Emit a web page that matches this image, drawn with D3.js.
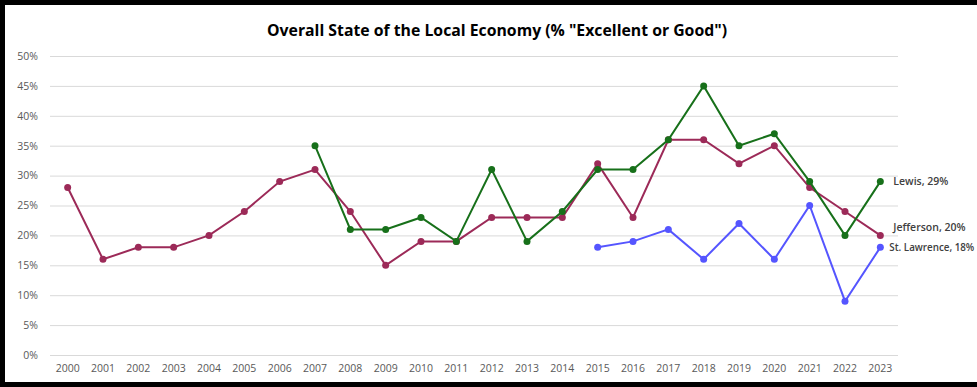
<!DOCTYPE html>
<html><head><meta charset="utf-8">
<script src="https://cdn.jsdelivr.net/npm/d3@7"></script>
<style>
html,body{margin:0;padding:0;background:#fff;}
svg{display:block;}
</style></head>
<body>
<svg id="chart" width="977" height="387"></svg>
<script>
const years = ["2000","2001","2002","2003","2004","2005","2006","2007","2008","2009","2010","2011","2012","2013","2014","2015","2016","2017","2018","2019","2020","2021","2022","2023"];
const jefferson = [28,16,18,18,20,24,29,31,24,15,19,19,23,23,23,32,23,36,36,32,35,28,24,20];
const lewis = [null,null,null,null,null,null,null,35,21,21,23,19,31,19,24,31,31,36,45,35,37,29,20,29];
const stLawrence = [null,null,null,null,null,null,null,null,null,null,null,null,null,null,null,18,19,21,16,22,16,25,9,18];
const yTicks = [0,5,10,15,20,25,30,35,40,45,50];
const seriesNames = ["Jefferson","Lewis","St. Lawrence"];
const title = 'Overall State of the Local Economy (% "Excellent or Good")';

const svg = d3.select("#chart");
const W = 977, H = 387;
const m = {left:50, right:79, top:56, bottom:32};
const x = d3.scaleBand().domain(years).range([m.left, W - m.right]);
const y = d3.scaleLinear().domain([0,50]).range([H - m.bottom, m.top]);
const cx = d => x(d) + x.bandwidth()/2;

// border
svg.append("rect").attr("x",2.5).attr("y",2.5).attr("width",W+10).attr("height",H-5)
  .attr("fill","none").attr("stroke","#000").attr("stroke-width",5);

// title
svg.append("text").attr("x",497).attr("y",36).attr("text-anchor","middle")
  .attr("font-family","Open Sans, sans-serif").attr("font-weight","bold").attr("font-size",15.8)
  .attr("fill","#000").text(title);

// grid
const yAxis = d3.axisLeft(y).tickValues(yTicks).tickFormat(d => d + "%").tickSize(-(W - m.right - m.left)).tickPadding(12);
const gy = svg.append("g").attr("transform",`translate(${m.left},0)`).call(yAxis);
gy.select(".domain").remove();
gy.selectAll(".tick line").attr("stroke","#d9d9d9").attr("stroke-width",1);
gy.selectAll(".tick text").attr("fill","#595959").attr("font-size",10.5).attr("font-family","Open Sans, sans-serif");

const xAxis = d3.axisBottom(x).tickSize(0).tickPadding(10);
const gx = svg.append("g").attr("transform",`translate(0,${H - m.bottom})`).call(xAxis);
gx.select(".domain").remove();
gx.selectAll(".tick text").attr("fill","#595959").attr("font-size",10.5).attr("font-family","Open Sans, sans-serif");

const series = [
  {name:"Jefferson", values:jefferson, color:"#9c2a58"},
  {name:"Lewis", values:lewis, color:"#17701a"},
  {name:"St. Lawrence", values:stLawrence, color:"#5555ff"}
];
const line = d3.line().defined(d => d.v != null).x(d => cx(d.year)).y(d => y(d.v));
const drawOrder = [series[2], series[0], series[1]];
drawOrder.forEach(s => {
  const pts = years.map((yr,i) => ({year:yr, v:s.values[i]}));
  svg.append("path").datum(pts).attr("d",line).attr("fill","none")
    .attr("stroke",s.color).attr("stroke-width",2);
  svg.append("g").selectAll("circle").data(pts.filter(d => d.v != null)).join("circle")
    .attr("cx",d => cx(d.year)).attr("cy",d => y(d.v)).attr("r",3.5).attr("fill",s.color);
});

// end labels
const last = years.length - 1;
const labelOffsets = {"Jefferson": -8, "Lewis": 0, "St. Lawrence": 0};
const labelDx = {"Jefferson": 13, "Lewis": 13, "St. Lawrence": 9};
const labelSize = {"Jefferson": 10.5, "Lewis": 10.5, "St. Lawrence": 9.8};
series.forEach(s => {
  const v = s.values[last];
  svg.append("text").attr("x", cx(years[last]) + labelDx[s.name]).attr("y", y(v) + labelOffsets[s.name])
    .attr("dy","0.35em").attr("font-family","Open Sans, sans-serif").attr("font-weight",600)
    .attr("font-size",labelSize[s.name]).attr("fill","#404040").text(`${s.name}, ${v}%`);
});
</script>
</body></html>
